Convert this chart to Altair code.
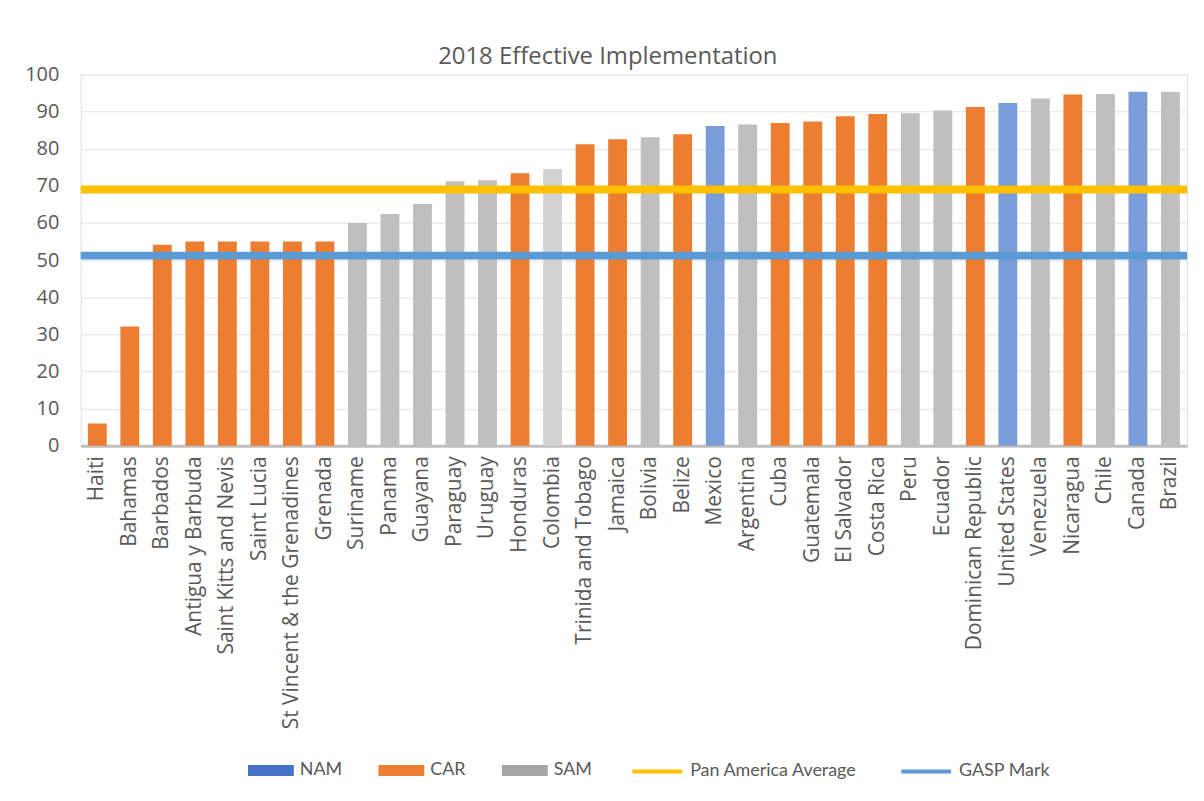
import altair as alt
import pandas as pd

countries = ["Haiti", "Bahamas", "Barbados", "Antigua y Barbuda", "Saint Kitts and Nevis",
             "Saint Lucia", "St Vincent & the Grenadines", "Grenada", "Suriname", "Panama",
             "Guayana", "Paraguay", "Uruguay", "Honduras", "Colombia", "Trinida and Tobago",
             "Jamaica", "Bolivia", "Belize", "Mexico", "Argentina", "Cuba", "Guatemala",
             "El Salvador", "Costa Rica", "Peru", "Ecuador", "Dominican Republic",
             "United States", "Venezuela", "Nicaragua", "Chile", "Canada", "Brazil"]
regions = ["CAR", "CAR", "CAR", "CAR", "CAR", "CAR", "CAR", "CAR", "SAM", "SAM",
           "SAM", "SAM", "SAM", "CAR", "SAM", "CAR", "CAR", "SAM", "CAR", "NAM",
           "SAM", "CAR", "CAR", "CAR", "CAR", "SAM", "SAM", "CAR", "NAM", "SAM",
           "CAR", "SAM", "NAM", "SAM"]
values = [6.0, 32.1, 54.1, 55.0, 55.0, 55.0, 55.0, 55.0, 60.0, 62.4,
          65.1, 71.2, 71.5, 73.4, 74.5, 81.2, 82.5, 83.1, 83.9, 86.1,
          86.5, 86.9, 87.3, 88.7, 89.3, 89.5, 90.3, 91.2, 92.3, 93.5,
          94.6, 94.7, 95.3, 95.3]

line_names = ["Pan America Average", "GASP Mark"]
line_values = [69.0, 51.2]

y_ticks = [0, 10, 20, 30, 40, 50, 60, 70, 80, 90, 100]

region_names = ["NAM", "CAR", "SAM"]
bar_colors = ["#7A9CD8", "#ED7D31", "#BFBFBF"]
legend_colors = ["#4472C4", "#ED7D31", "#A5A5A5"]
line_colors = ["#FFC000", "#5B9BD5"]

df = pd.DataFrame({"country": countries, "region": regions, "value": values,
                   "legend_region": regions})
lines_df = pd.DataFrame({"name": line_names, "value": line_values})

x_enc = alt.X("country:N", sort=countries, title=None,
              scale=alt.Scale(paddingInner=0.42, paddingOuter=0.22),
              axis=alt.Axis(labelAngle=-90, labelPadding=10, ticks=False,
                            domainColor="#BFBFBF", domainWidth=3,
                            labelFont="Open Sans", labelFontSize=21,
                            labelColor="#595959", labelLimit=400))
y_enc = alt.Y("value:Q", title=None,
              scale=alt.Scale(domain=[0, 100]),
              axis=alt.Axis(values=y_ticks, tickCount=11, domain=False, ticks=False,
                            labelPadding=22, labelFont="Open Sans", labelFontSize=20,
                            labelColor="#595959", gridColor="#EBEBEB", gridWidth=1.5,
                            labelOverlap=False))

bars = alt.Chart(df).mark_bar().encode(
    x=x_enc,
    y=y_enc,
    fill=alt.condition(alt.datum.country == "Colombia", alt.value("#D2D2D2"),
                       alt.Fill("region:N", scale=alt.Scale(domain=region_names, range=bar_colors),
                                legend=None)),
)

legend_path = "M-1,-0.24L1,-0.24L1,0.24L-1,0.24Z"
dummy = alt.Chart(df).mark_bar(opacity=0).encode(
    x=x_enc,
    y=y_enc,
    color=alt.Color("legend_region:N", scale=alt.Scale(domain=region_names, range=legend_colors),
                    legend=alt.Legend(title=None, orient="none", direction="horizontal",
                                      legendX=168, legendY=676,
                                      symbolType=legend_path, symbolSize=2116,
                                      symbolOpacity=1, symbolStrokeWidth=0,
                                      labelFont="Lato", labelFontSize=18, labelColor="#595959",
                                      labelOffset=6, columnPadding=36, labelLimit=400)),
)

rules = alt.Chart(lines_df).mark_rule(strokeWidth=8).encode(
    y=y_enc,
    stroke=alt.Stroke("name:N", sort=line_names,
                      scale=alt.Scale(domain=line_names, range=line_colors),
                      legend=alt.Legend(title=None, orient="none", direction="horizontal",
                                        legendX=552, legendY=673,
                                        symbolType="stroke", symbolSize=2500,
                                        symbolStrokeWidth=4,
                                        labelFont="Lato", labelFontSize=18, labelColor="#595959",
                                        labelOffset=6, columnPadding=36, labelLimit=400)),
)

chart = alt.layer(bars, dummy, rules).resolve_scale(
    color="independent", fill="independent", stroke="independent"
).resolve_legend(color="independent", fill="independent", stroke="independent").properties(
    width=1111, height=373,
    title=alt.TitleParams("2018 Effective Implementation", font="Open Sans", fontSize=24,
                          fontWeight="normal", color="#595959", offset=-5, frame="bounds"),
    padding={"left": 16, "top": 36, "right": 5, "bottom": 5},
).configure_view(stroke=None).configure(background="white")

chart.save("out.html", embed_options={"renderer": "svg", "actions": False})
